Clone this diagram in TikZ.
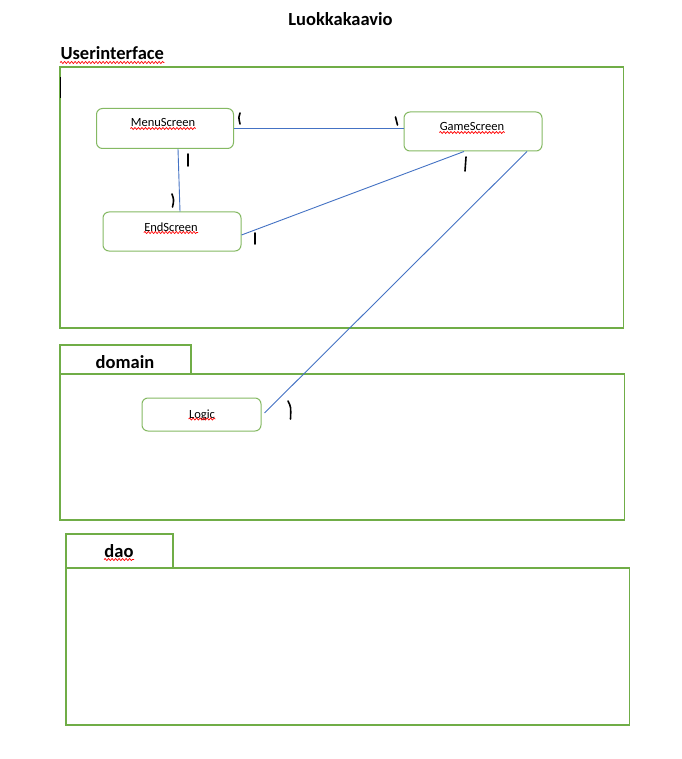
\documentclass[tikz,border=0pt]{standalone}
\usepackage{fontspec}
\setmainfont{Carlito}
\usepackage{xcolor}
\usetikzlibrary{decorations.pathmorphing}
\definecolor{pkggreen}{HTML}{70AD47}
\definecolor{linkblue}{HTML}{4472C4}

\begin{document}
\begin{tikzpicture}[x=1pt, y=-1pt, line width=1pt]
	
	\tikzstyle{pkg} = [draw=pkggreen, line width=1.1pt, inner sep=0pt, outer sep=0pt]
	
	\tikzstyle{cls} = [draw=pkggreen!85, rounded corners=6pt, line width=1pt, inner sep=0pt]
	
	\tikzstyle{clstext} = [font=\fontsize{12.5}{14}\selectfont, inner sep=0pt]
	
	\tikzstyle{heading} = [font=\fontsize{18.5}{21}\selectfont\bfseries, inner sep=0pt]
	
	\tikzstyle{line} = [draw=linkblue, line width=0.9pt]
	
	\tikzstyle{spell} = [draw=red, line width=0.7pt, decorate, decoration={snake, amplitude=1pt, segment length=3.5pt}]
	
	\tikzstyle{ink} = [draw=black, line width=1.6pt, line cap=round]
	
	\fill[white] (0,0) rectangle (681,759);
	\useasboundingbox (0,0) rectangle (681,759);
	
	\node[heading, anchor=base] (title) at (340.5,26) {Luokkakaavio};
	
	% packages
	\node[heading, anchor=base west] (ui label) at (60,60) {Userinterface};
	\node[pkg, minimum width=563.5, minimum height=261] (ui frame) at (341.75,197.5) {};
	\node[pkg, minimum width=131, minimum height=29] (domain tab) at (125.5,359.5) {};
	\node[pkg, minimum width=564.5, minimum height=146] (domain frame) at (342.25,447) {};
	\node[heading, anchor=base] (domain label) at (125,368) {domain};
	\node[pkg, minimum width=107, minimum height=34] (dao tab) at (119.5,551) {};
	\node[pkg, minimum width=563.5, minimum height=157] (dao frame) at (347.75,646.5) {};
	\node[heading, anchor=base] (dao label) at (119,557) {dao};
	
	% classes
	\node[cls, minimum width=137, minimum height=40] (menu screen) at (165,128.5) {};
	\node[cls, minimum width=138, minimum height=39] (game screen) at (473,131.5) {};
	\node[cls, minimum width=138, minimum height=39] (end screen) at (172,231.5) {};
	\node[cls, minimum width=119, minimum height=33] (logic) at (201.5,414.5) {};
	
	\node[clstext, anchor=base] (menu text) at (163,127) {MenuScreen};
	\node[clstext, anchor=base] (game text) at (472,131) {GameScreen};
	\node[clstext, anchor=base] (end text) at (171,231) {EndScreen};
	\node[clstext, anchor=base] (logic text) at (202,418) {Logic};
	
	% spell check marks
	\path[spell] ([yshift=-2.5pt]ui label.base west) -- ([yshift=-2.5pt]ui label.base east);
	\path[spell] ([yshift=-1.5pt]menu text.base west) -- ([yshift=-1.5pt]menu text.base east);
	\path[spell] ([yshift=-1.5pt]game text.base west) -- ([yshift=-1.5pt]game text.base east);
	\path[spell] ([yshift=-1.5pt]end text.base west) -- ([yshift=-1.5pt]end text.base east);
	\path[spell] ([yshift=-1pt]logic text.base west) -- ([yshift=-1pt]logic text.base east);
	\path[spell] ([yshift=-2.5pt]dao label.base west) -- ([yshift=-2.5pt]dao label.base east);
	
	% connectors
	\path[line] (menu screen.east) -- (menu screen.east -| game screen.west);
	\path[line] ([xshift=13pt]menu screen.south) -- ([xshift=8pt]end screen.north);
	\path[line] ([yshift=-3.5pt]end screen.east) -- ([xshift=-9pt]game screen.south);
	\path[line] ([xshift=54pt]game screen.south) -- ([xshift=3pt, yshift=1.5pt]logic.east);
	
	% multiplicities
	\draw[ink] (240,113) .. controls (238.5,117) .. (240,124);
	\draw[ink] (395.5,117) -- (397.5,125);
	\draw[ink] (188,154) -- (188,166);
	\draw[ink] (172,194) .. controls (174,200) .. (172.5,207);
	\draw[ink] (255,233) -- (255,244);
	\draw[ink] (466,157) -- (465,171);
	\draw[ink] (288,401) .. controls (291,407) .. (290.5,419);
	
	% cursor
	\draw[line width=1.6pt] (60.5,77) -- (60.5,98);
	
\end{tikzpicture}
\end{document}
